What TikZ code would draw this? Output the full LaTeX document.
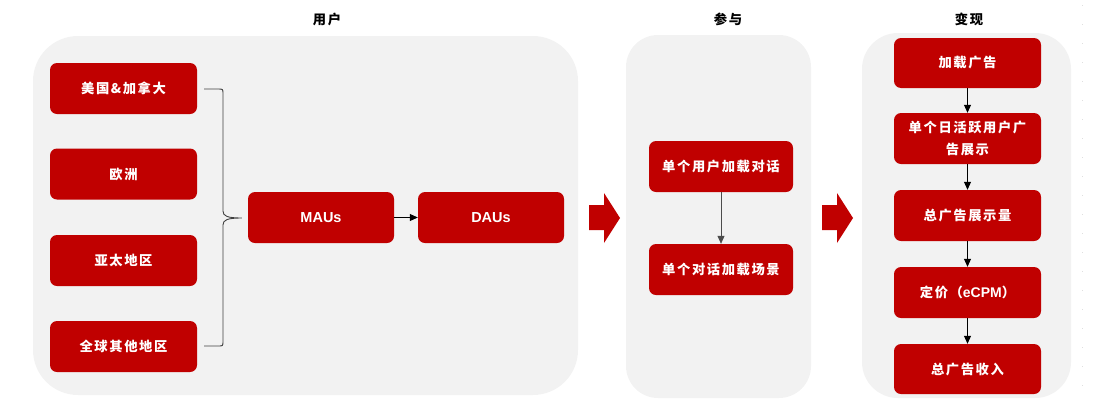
\documentclass[tikz,border=0pt]{standalone}
\usepackage{fontspec}
\setmainfont{Liberation Sans}
\newfontfamily\cjk[LetterSpace=12]{Noto Sans CJK SC}
\newfontfamily\lat{Liberation Sans}
\usetikzlibrary{arrows.meta,calc}
\definecolor{boxred}{HTML}{C00000}
\definecolor{panelgray}{HTML}{F2F2F2}
\definecolor{bracegray}{HTML}{404040}
\tikzset{
  panel/.style={fill=panelgray, draw=none},
  redbox/.style={fill=boxred, draw=none, rounded corners=7pt, text=white,
    font=\cjk\bfseries\fontsize{13.3}{22.5}\selectfont, align=center, inner sep=0pt},
  latbox/.style={redbox, font=\lat\bfseries\fontsize{14.5}{17}\selectfont},
  title/.style={font=\cjk\bfseries\fontsize{13.3}{15}\selectfont, text=black},
  flow/.style={draw=black, line width=0.8pt, -{Triangle[length=8pt,width=7pt]}},
  bigarrow/.style={fill=boxred, draw=none},
}
\begin{document}
\begin{tikzpicture}[x=1pt,y=-1pt]
\useasboundingbox (0,0) rectangle (1110,405);

% grey panels
\fill[panel, rounded corners=45pt] (33,36) rectangle (578,395);
\fill[panel, rounded corners=32pt] (626,35) rectangle (811,398);
\fill[panel, rounded corners=36pt] (862,33) rectangle (1071,398);

% faint dotted guide on the right
\draw[gray!25, line width=0.6pt, dash pattern=on 0.8pt off 18.2pt] (1082,5) -- (1082,402);

% column titles
\node[title] (t1) at (327,19) {用户};
\node[title] (t2) at (728,19) {参与};
\node[title] (t3) at (969,19) {变现};

% regions
\node[redbox, minimum width=147pt, minimum height=51pt] (r1) at (123.5,88.5) {美国\&加拿大};
\node[redbox, minimum width=147pt, minimum height=51pt] (r2) at (123.5,174) {欧洲};
\node[redbox, minimum width=147pt, minimum height=51pt] (r3) at (123.5,260.5) {亚太地区};
\node[redbox, minimum width=147pt, minimum height=51pt] (r4) at (123.5,346.5) {全球其他地区};

% user metrics
\node[latbox, minimum width=146pt, minimum height=51pt] (mau) at (321,217.5) {MAUs};
\node[latbox, minimum width=146pt, minimum height=51pt] (dau) at (491,217.5) {DAUs};
\draw[flow] (mau) -- (dau);

% brace gathering the regions
\coordinate (bt) at ($(r1.east)+(7,0.5)$);
\coordinate (bb) at ($(r4.east)+(7,-0.5)$);
\coordinate (tip) at ($(mau.west)+(-6,0.5)$);
\draw[bracegray, line width=0.9pt]
  (bt) -- (218,89) .. controls (223,89) .. (223,94) -- (223,211)
  .. controls (223,216) and (227,218) .. (tip)
  .. controls (227,218) and (223,220) .. (223,225) -- (223,341)
  .. controls (223,346) .. (218,346) -- (bb);

% big arrows between stages
\fill[bigarrow] (589,205) -- (604,205) -- (604,193) -- (620,218) -- (604,243) -- (604,230) -- (589,230) -- cycle;
\fill[bigarrow] (822,205) -- (837,205) -- (837,193) -- (853,218) -- (837,243) -- (837,230) -- (822,230) -- cycle;

% engagement
\node[redbox, minimum width=144pt, minimum height=51pt] (e1) at (721,166.5) {单个用户加载对话};
\node[redbox, minimum width=144pt, minimum height=51pt] (e2) at (721,269.5) {单个对话加载场景};
\draw[flow, draw=black!70, fill=black] (e1) -- (e2);

% monetisation
\node[redbox, minimum width=147pt, minimum height=50pt] (m1) at (967.5,63) {加载广告};
\node[redbox, minimum width=147pt, minimum height=51pt] (m2) at (967.5,138.5) {单个日活跃用户广\\告展示};
\node[redbox, minimum width=147pt, minimum height=51pt] (m3) at (967.5,215.5) {总广告展示量};
\node[redbox, minimum width=147pt, minimum height=51pt] (m4) at (967.5,292.5) {定价（{\lat\bfseries\fontsize{14}{17}\selectfont eCPM}）};
\node[redbox, minimum width=147pt, minimum height=50pt] (m5) at (967.5,369) {总广告收入};
\draw[flow] (m1) -- (m2);
\draw[flow] (m2) -- (m3);
\draw[flow] (m3) -- (m4);
\draw[flow] (m4) -- (m5);
\end{tikzpicture}
\end{document}
